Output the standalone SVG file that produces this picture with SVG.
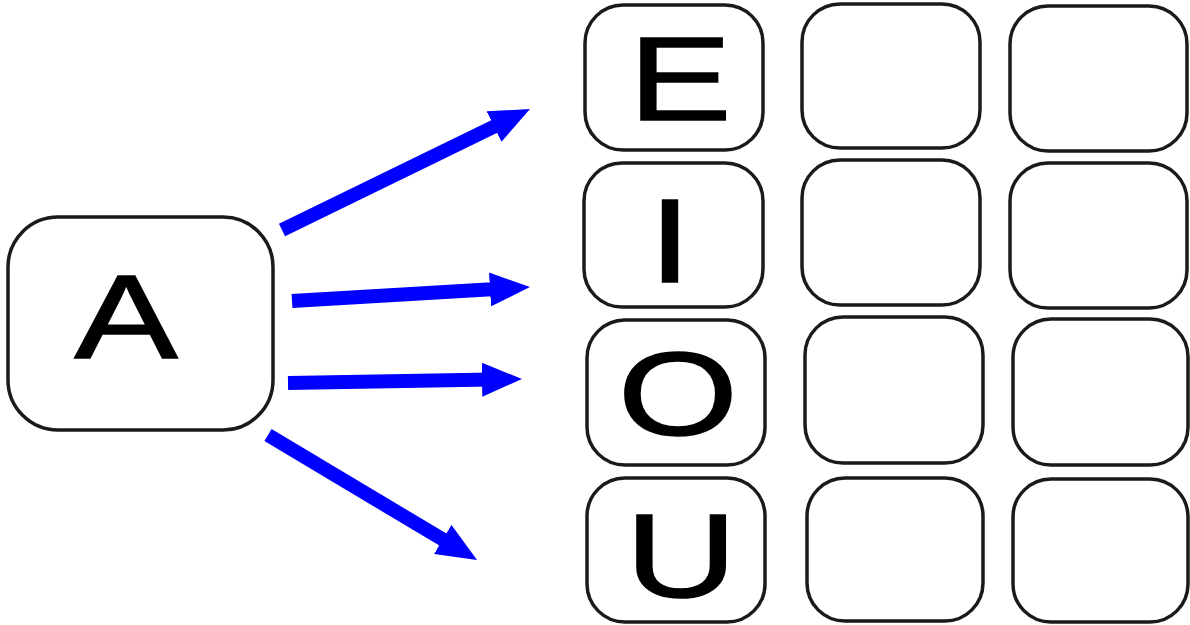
<svg xmlns="http://www.w3.org/2000/svg" width="1190" height="625" viewBox="0 0 1190 625">
  <style>
    .box { fill: #ffffff; stroke: #1a1a1a; stroke-width: 3.5; }
    .lbl { font-family: "Liberation Sans", Arial, sans-serif; font-size: 119px; fill: #000000; stroke: #000000; stroke-width: 1.5; text-anchor: middle; }
    .arr { stroke: #0000ff; stroke-width: 14; fill: none; marker-end: url(#head); }
  </style>
  <defs>
    <marker id="head" markerUnits="userSpaceOnUse" markerWidth="40" markerHeight="34" viewBox="0 0 40 34" refX="10" refY="17" orient="auto">
      <path d="M0,0 L40,17 L0,34 Z" fill="#0000ff"/>
    </marker>
  </defs>
  <rect width="1190" height="625" fill="#ffffff"/>

  <g id="node-A">
    <rect class="box" x="8" y="217" width="265" height="213" rx="50" ry="50"/>
    <text class="lbl" transform="translate(126,358) scale(1.3,1)">A</text>
  </g>

  <g id="node-E">
    <rect class="box" x="585" y="5" width="178" height="145" rx="38" ry="38"/>
    <text class="lbl" transform="translate(680,120) scale(1.3,1)">E</text>
  </g>
  <g id="node-I">
    <rect class="box" x="584" y="163" width="179" height="144" rx="38" ry="38"/>
    <text class="lbl" transform="translate(670,282) scale(1.3,1)">I</text>
  </g>
  <g id="node-O">
    <rect class="box" x="587" y="320" width="178" height="145" rx="38" ry="38"/>
    <text class="lbl" transform="translate(678,435) scale(1.3,1)">O</text>
  </g>
  <g id="node-U">
    <rect class="box" x="587" y="478" width="178" height="144" rx="38" ry="38"/>
    <text class="lbl" transform="translate(681,597) scale(1.3,1)">U</text>
  </g>

  <g id="cell-r1c2"><rect class="box" x="802" y="4" width="178" height="144" rx="38" ry="38"/></g>
  <g id="cell-r1c3"><rect class="box" x="1010" y="6" width="177" height="145" rx="38" ry="38"/></g>
  <g id="cell-r2c2"><rect class="box" x="802" y="160" width="178" height="145" rx="38" ry="38"/></g>
  <g id="cell-r2c3"><rect class="box" x="1010" y="163" width="177" height="145" rx="38" ry="38"/></g>
  <g id="cell-r3c2"><rect class="box" x="805" y="317" width="178" height="146" rx="38" ry="38"/></g>
  <g id="cell-r3c3"><rect class="box" x="1013" y="319" width="175" height="146" rx="38" ry="38"/></g>
  <g id="cell-r4c2"><rect class="box" x="807" y="478" width="176" height="143" rx="38" ry="38"/></g>
  <g id="cell-r4c3"><rect class="box" x="1013" y="479" width="175" height="143" rx="38" ry="38"/></g>

  <g id="connectors">
    <line class="arr" x1="282" y1="230" x2="503" y2="122.2"/>
    <line class="arr" x1="292" y1="301" x2="500" y2="288.8"/>
    <line class="arr" x1="288" y1="383" x2="492" y2="379.5"/>
    <line class="arr" x1="268" y1="435" x2="451.3" y2="544.6"/>
  </g>
</svg>
